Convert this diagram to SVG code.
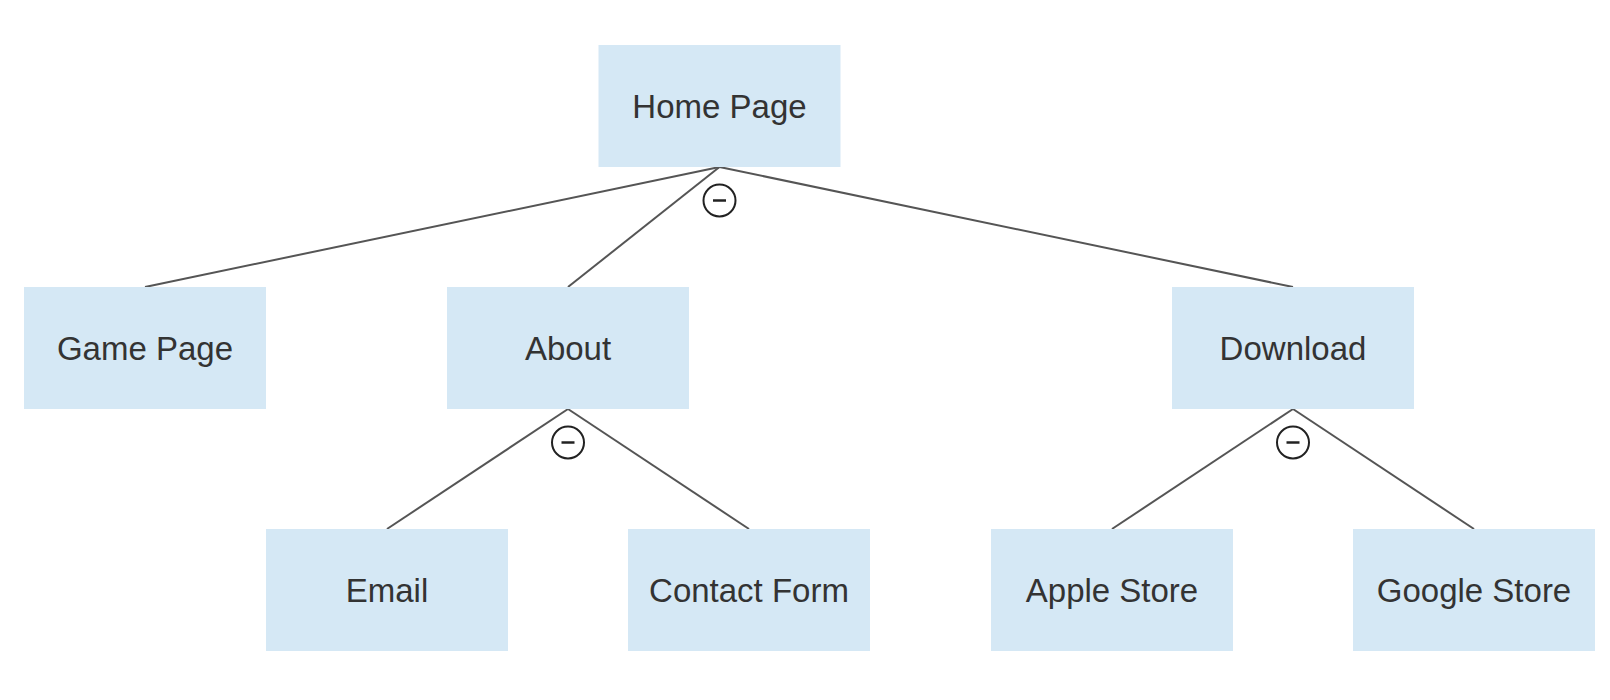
<svg xmlns="http://www.w3.org/2000/svg" width="1610" height="700" viewBox="0 0 1610 700">
<style>
.node rect{fill:#d5e8f5;}
.node text{font-family:"Liberation Sans",Arial,sans-serif;font-size:33px;fill:#333333;text-anchor:middle;}
.edge{stroke:#555555;stroke-width:2;fill:none;}
.toggle circle{fill:#ffffff;stroke:#222222;stroke-width:2;}
.toggle line{stroke:#222222;stroke-width:2.5;}
</style>
<rect width="1610" height="700" fill="#ffffff"/>
<g id="connectors">
<line class="edge" x1="719.5" y1="167" x2="145" y2="287"/>
<line class="edge" x1="719.5" y1="167" x2="568" y2="287"/>
<line class="edge" x1="719.5" y1="167" x2="1293" y2="287"/>
<line class="edge" x1="568" y1="409" x2="387" y2="529"/>
<line class="edge" x1="568" y1="409" x2="749" y2="529"/>
<line class="edge" x1="1293" y1="409" x2="1112" y2="529"/>
<line class="edge" x1="1293" y1="409" x2="1474" y2="529"/>
</g>
<g id="toggles">
<g class="toggle"><circle cx="719.5" cy="200.5" r="16"/><line x1="713" y1="200.5" x2="726" y2="200.5"/></g>
<g class="toggle"><circle cx="568" cy="442.5" r="16"/><line x1="561.5" y1="442.5" x2="574.5" y2="442.5"/></g>
<g class="toggle"><circle cx="1293" cy="442.5" r="16"/><line x1="1286.5" y1="442.5" x2="1299.5" y2="442.5"/></g>
</g>
<g id="home" class="node"><rect x="598.5" y="45" width="242" height="122"/><text x="719.5" y="117.5">Home Page</text></g>
<g id="game" class="node"><rect x="24" y="287" width="242" height="122"/><text x="145" y="359.5">Game Page</text></g>
<g id="about" class="node"><rect x="447" y="287" width="242" height="122"/><text x="568" y="359.5">About</text></g>
<g id="download" class="node"><rect x="1172" y="287" width="242" height="122"/><text x="1293" y="359.5">Download</text></g>
<g id="email" class="node"><rect x="266" y="529" width="242" height="122"/><text x="387" y="601.5">Email</text></g>
<g id="contact" class="node"><rect x="628" y="529" width="242" height="122"/><text x="749" y="601.5">Contact Form</text></g>
<g id="apple" class="node"><rect x="991" y="529" width="242" height="122"/><text x="1112" y="601.5">Apple Store</text></g>
<g id="google" class="node"><rect x="1353" y="529" width="242" height="122"/><text x="1474" y="601.5">Google Store</text></g>
</svg>
